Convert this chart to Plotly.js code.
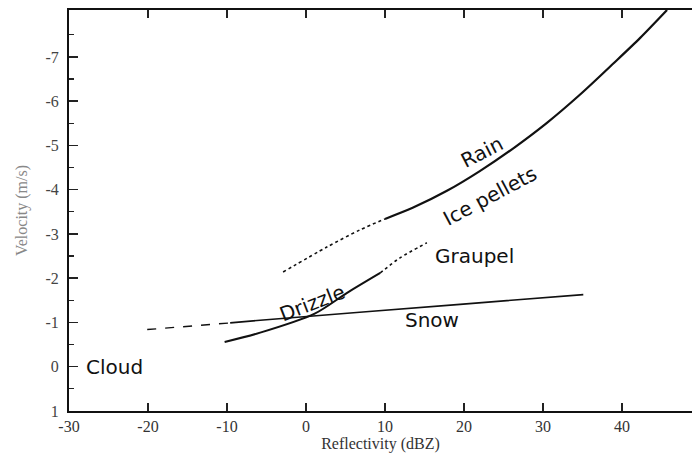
<!DOCTYPE html>
<html><head><meta charset="utf-8">
<script src="https://cdn.plot.ly/plotly-3.0.1.min.js"></script>
<style>html,body{margin:0;padding:0;background:#fff}#chart{width:692px;height:459px}</style>
</head><body><div id="chart"></div>
<script>
// Rain (solid) and its dotted extension toward low reflectivity
const rainX = [10.0, 13.5, 17.9, 22.0, 26.2, 30.5, 34.7, 38.9, 42.3, 45.7];
const rainY = [-3.34, -3.59, -3.98, -4.42, -4.93, -5.51, -6.15, -6.85, -7.43, -8.06];
const rainDotX = [-2.9, 2.7, 6.8, 10.0];
const rainDotY = [-2.14, -2.71, -3.09, -3.34];
// Drizzle (solid) continuing as graupel (dotted)
const drizzleX = [-10.3, -5.8, 1.1, 5.2, 9.4];
const drizzleY = [-0.56, -0.77, -1.2, -1.67, -2.12];
const graupelX = [9.4, 11.9, 15.3];
const graupelY = [-2.12, -2.46, -2.8];
// Cloud (dashed) and snow (solid)
const cloudX = [-20.1, -9.6];
const cloudY = [-0.84, -0.99];
const snowX = [-9.6, -5.8, 19.5, 35.1];
const snowY = [-0.99, -1.05, -1.41, -1.63];
// Tick labels
const xTicks = [-30, -20, -10, 0, 10, 20, 30, 40];
const xTickText = ["-30", "-20", "-10", "0", "10", "20", "30", "40"];
const yTicks = [1, 0, -1, -2, -3, -4, -5, -6, -7];
const yTickText = ["1", "0", "-1", "-2", "-3", "-4", "-5", "-6", "-7"];
const yMinor = [0.5, -0.5, -1.5, -2.5, -3.5, -4.5, -5.5, -6.5, -7.5];
// Curve labels
const labelText = ["Cloud", "Drizzle", "Rain", "Ice pellets", "Graupel", "Snow"];
const labelX = [-24.2, 0.8, 22.3, 23.3, 21.3, 16.0];
const labelY = [0.0, -1.45, -4.85, -3.85, -2.51, -1.06];
const labelAngle = [0, -21, -27, -28, 0, 0];

const line = (x, y, dash, w) => ({x, y, type: 'scatter', mode: 'lines',
  line: {color: '#111', width: w, dash: dash, shape: 'spline', smoothing: 0.8},
  showlegend: false, hoverinfo: 'skip'});

const data = [
  line(rainX, rainY, 'solid', 2.2),
  line(rainDotX, rainDotY, 'dot', 1.6),
  line(drizzleX, drizzleY, 'solid', 2),
  line(graupelX, graupelY, 'dot', 1.6),
  line(cloudX, cloudY, 'dash', 1.4),
  line(snowX, snowY, 'solid', 1.6)
];

const annotations = labelText.map((t, i) => ({
  x: labelX[i], y: labelY[i], xref: 'x', yref: 'y', text: t, showarrow: false,
  textangle: labelAngle[i], font: {family: 'DejaVu Sans, sans-serif', size: 20, color: '#111'}
}));

const layout = {
  width: 692, height: 459,
  margin: {l: 69, r: 0, t: 10, b: 48},
  paper_bgcolor: '#fff', plot_bgcolor: '#fff',
  showlegend: false,
  xaxis: {
    range: [-30, 48.86], autorange: false,
    tickvals: xTicks, ticktext: xTickText, ticks: 'inside', ticklen: 8, tickwidth: 1.5, tickcolor: '#222',
    showline: true, linecolor: '#111', linewidth: 2, mirror: 'allticks',
    showgrid: false, zeroline: false,
    tickfont: {family: 'Liberation Serif, Times New Roman, serif', size: 16, color: '#333'},
    title: {text: 'Reflectivity (dBZ)', standoff: 4,
      font: {family: 'Liberation Serif, Times New Roman, serif', size: 16, color: '#333'}}
  },
  yaxis: {
    range: [1, -8.06], autorange: false,
    tickvals: yTicks, ticktext: yTickText, ticks: 'inside', ticklen: 9, tickwidth: 1.5, tickcolor: '#222',
    ticklabelstandoff: 5,
    minor: {tickvals: yMinor, ticks: 'inside', ticklen: 5, tickwidth: 1.2, tickcolor: '#222', showgrid: false},
    showline: true, linecolor: '#111', linewidth: 2, mirror: false,
    showgrid: false, zeroline: false,
    tickfont: {family: 'Liberation Serif, Times New Roman, serif', size: 16, color: '#444'},
    title: {text: 'Velocity (m/s)', standoff: 14,
      font: {family: 'Liberation Serif, Times New Roman, serif', size: 16, color: '#888'}}
  },
  annotations: annotations
};

Plotly.newPlot('chart', data, layout, {staticPlot: true, displayModeBar: false});
</script>
</body></html>
